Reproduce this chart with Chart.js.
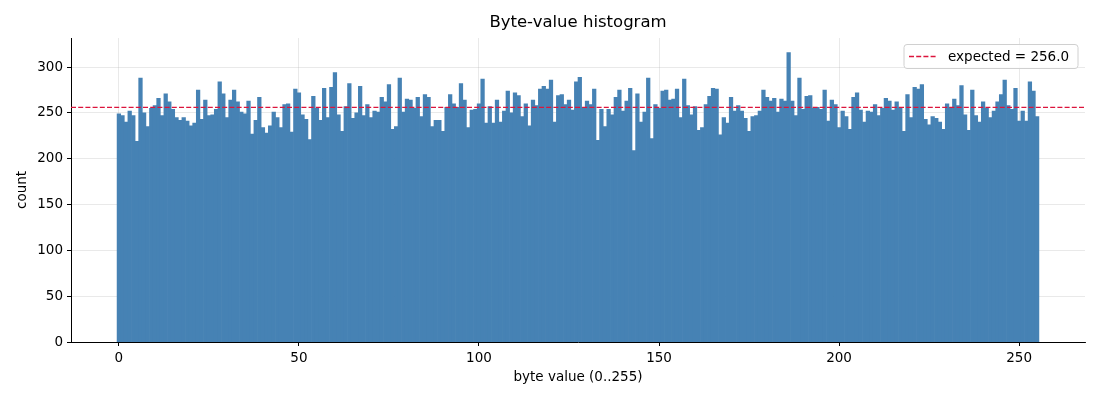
<!DOCTYPE html>
<html>
<head>
<meta charset="utf-8">
<script src="https://cdn.jsdelivr.net/npm/chart.js@4.4.1/dist/chart.umd.min.js"></script>
<style>
  html, body { margin: 0; padding: 0; background: #fff; }
  #wrap { width: 1100px; height: 400px; }
</style>
</head>
<body>
<div id="wrap"><canvas id="hist"></canvas></div>
<script>
// counts per byte value (bytes 0..255)
const counts = [
  249, 247, 240, 252, 247, 219, 288, 250, 235, 255, 258, 266, 247, 271, 262, 254,
  245, 242, 245, 241, 236, 239, 275, 243, 264, 247, 248, 254, 284, 271, 245, 264,
  275, 262, 251, 249, 263, 227, 242, 267, 234, 228, 236, 251, 245, 234, 259, 260,
  229, 276, 272, 248, 243, 221, 268, 255, 242, 277, 245, 278, 294, 248, 230, 257,
  282, 244, 250, 279, 247, 259, 245, 252, 251, 267, 262, 281, 232, 235, 288, 251,
  265, 264, 255, 267, 246, 270, 267, 235, 242, 242, 230, 256, 270, 260, 256, 282,
  264, 234, 253, 254, 260, 287, 239, 257, 239, 264, 240, 252, 274, 250, 272, 269,
  246, 260, 236, 264, 258, 276, 279, 276, 286, 240, 269, 270, 259, 264, 253, 284,
  289, 256, 263, 259, 276, 220, 254, 235, 254, 248, 267, 275, 252, 263, 277, 209,
  271, 240, 251, 288, 222, 259, 255, 274, 275, 264, 265, 276, 245, 287, 258, 248,
  257, 231, 234, 259, 268, 277, 276, 226, 245, 239, 267, 252, 258, 252, 244, 230,
  246, 247, 252, 275, 267, 263, 266, 251, 265, 263, 316, 263, 247, 288, 254, 268,
  269, 255, 256, 254, 275, 241, 264, 259, 234, 252, 246, 232, 267, 272, 253, 240,
  252, 251, 259, 247, 255, 266, 263, 253, 262, 256, 230, 270, 245, 278, 276, 281,
  243, 237, 246, 244, 240, 232, 260, 256, 265, 258, 280, 248, 231, 275, 247, 240,
  262, 255, 245, 252, 262, 270, 286, 258, 254, 277, 241, 252, 241, 284, 274, 246
];
const byteValues = counts.map((_, i) => i);
const expected = 256.0;
const xTicks = [0, 50, 100, 150, 200, 250];
const yTicks = [0, 50, 100, 150, 200, 250, 300];

// axis limits like matplotlib's 5% margins
const xMin = -13.3, xMax = 268.3;
const yMax = 331.8;

const FONT = "'DejaVu Sans', sans-serif";

// title, axis labels and the boxed legend inside the plot
const decor = {
    id: 'decor',
    afterDraw(chart) {
        const ctx = chart.ctx;
        const a = chart.chartArea;
        ctx.save();
        ctx.fillStyle = '#000';
        ctx.textAlign = 'center';
        ctx.textBaseline = 'middle';
        ctx.font = `16.5px ${FONT}`;
        ctx.fillText('Byte-value histogram', (a.left + a.right) / 2, 23);
        ctx.font = `13.5px ${FONT}`;
        ctx.fillText('byte value (0..255)', (a.left + a.right) / 2, 377);
        ctx.translate(22, (a.top + a.bottom) / 2);
        ctx.rotate(-Math.PI / 2);
        ctx.fillText('count', 0, 0);
        ctx.restore();

        // legend
        const bx = 904, by = 44.5, bw = 174, bh = 24;
        ctx.save();
        ctx.fillStyle = 'rgba(255,255,255,0.85)';
        ctx.strokeStyle = '#d0d0d0';
        ctx.lineWidth = 1;
        ctx.beginPath();
        ctx.roundRect(bx, by, bw, bh, 3);
        ctx.fill();
        ctx.stroke();
        ctx.strokeStyle = '#dc143c';
        ctx.lineWidth = 1.3;
        ctx.setLineDash([5, 2.2]);
        ctx.beginPath();
        ctx.moveTo(909, by + bh / 2);
        ctx.lineTo(937, by + bh / 2);
        ctx.stroke();
        ctx.setLineDash([]);
        ctx.fillStyle = '#000';
        ctx.font = `13.5px ${FONT}`;
        ctx.textAlign = 'left';
        ctx.textBaseline = 'middle';
        ctx.fillText(chart.data.datasets[1].label, 948, by + bh / 2 + 0.5);
        ctx.restore();
    }
};

const ctx = document.getElementById('hist').getContext('2d');
new Chart(ctx, {
    data: {
        datasets: [
            {
                type: 'bar',
                label: 'count',
                data: byteValues.map((b, i) => ({ x: b, y: counts[i] })),
                backgroundColor: '#4682b4',
                borderWidth: 0,
                barPercentage: 1.0,
                categoryPercentage: 1.0,
                order: 2
            },
            {
                type: 'line',
                label: `expected = ${expected.toFixed(1)}`,
                data: [{ x: xMin, y: expected }, { x: xMax, y: expected }],
                borderColor: '#dc143c',
                borderWidth: 1.3,
                borderDash: [5, 2.2],
                pointRadius: 0,
                fill: false,
                order: 1
            }
        ]
    },
    options: {
        responsive: true,
        maintainAspectRatio: false,
        animation: false,
        layout: { padding: { left: 0, right: 15, top: 38, bottom: 0 } },
        plugins: {
            legend: { display: false },
            title: { display: false },
            tooltip: { enabled: false }
        },
        scales: {
            x: {
                type: 'linear',
                min: xMin,
                max: xMax,
                offset: false,
                z: 1,
                afterBuildTicks: s => { s.ticks = xTicks.map(v => ({ value: v })); },
                afterFit: s => { s.height = 58; },
                grid: {
                    offset: false,
                    color: 'rgba(176,176,176,0.35)',
                    lineWidth: 0.8,
                    tickColor: '#000',
                    tickLength: 4,
                    tickWidth: 1
                },
                border: { color: '#000', width: 1 },
                ticks: { color: '#000', padding: 4, font: { family: FONT, size: 13.5 } }
            },
            y: {
                type: 'linear',
                min: 0,
                max: yMax,
                z: 1,
                afterBuildTicks: s => { s.ticks = yTicks.map(v => ({ value: v })); },
                afterFit: s => { s.width = 71; },
                grid: {
                    color: 'rgba(176,176,176,0.35)',
                    lineWidth: 0.8,
                    tickColor: '#000',
                    tickLength: 4,
                    tickWidth: 1
                },
                border: { color: '#000', width: 1 },
                ticks: { color: '#000', padding: 4, font: { family: FONT, size: 13.5 } }
            }
        }
    },
    plugins: [decor]
});
</script>
</body>
</html>
